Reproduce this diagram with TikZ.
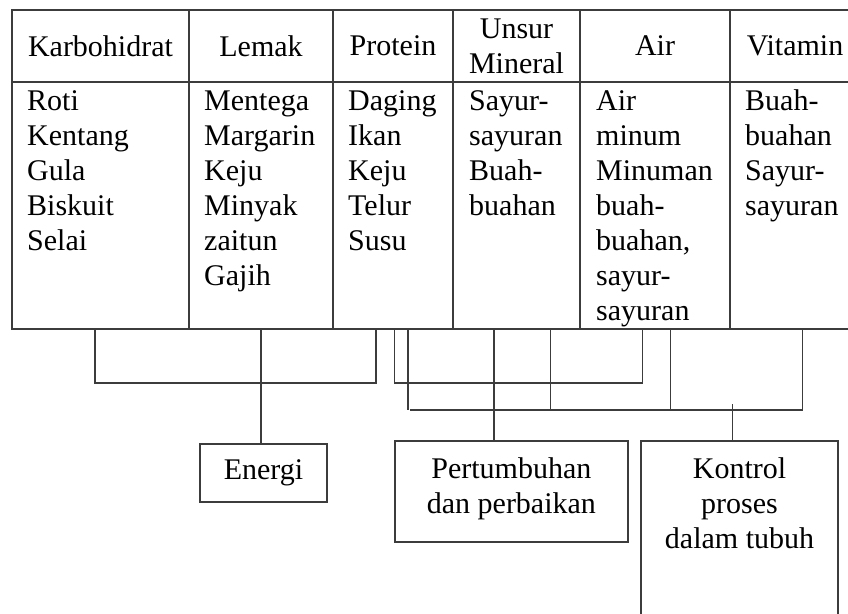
\documentclass[tikz,border=0pt]{standalone}
\usepackage{fontspec}
\setmainfont{Liberation Serif}
\definecolor{rulegray}{RGB}{60,60,60}
\newcommand{\cellstack}[2][l]{\begin{tabular}[t]{@{}#1@{}}#2\end{tabular}}
\begin{document}
\begin{tikzpicture}[x=1pt,y=-1pt,
  every node/.style={font=\fontsize{30}{35}\selectfont, text=black},
  frame/.style={draw=rulegray, line width=1.5pt, inner sep=0pt, outer sep=0pt},
  link/.style={draw=rulegray, line width=1.5pt},
  headcell/.style={frame, align=center, minimum height=72pt},
  bodycell/.style={frame, minimum height=247pt},
  items/.style={anchor=base west, inner sep=0pt},
  caption/.style={anchor=base, inner sep=0pt}]

\useasboundingbox (0,0) rectangle (848,613);
\clip (0,0) rectangle (848,613);

% header row
\node[headcell, minimum width=177pt] (hK) at (100.5,46) {Karbohidrat};
\node[headcell, minimum width=144pt] (hL) at (261,46)   {Lemak};
\node[headcell, minimum width=120pt] (hP) at (393,46)   {Protein};
\node[headcell, minimum width=127pt] (hU) at (516.5,46) {Unsur\\Mineral};
\node[headcell, minimum width=150pt] (hA) at (655,46)   {Air};
\node[headcell, minimum width=130pt] (hV) at (795,46)   {Vitamin};

% body row
\node[bodycell, minimum width=177pt] (bK) at (100.5,205.5) {};
\node[bodycell, minimum width=144pt] (bL) at (261,205.5)   {};
\node[bodycell, minimum width=120pt] (bP) at (393,205.5)   {};
\node[bodycell, minimum width=127pt] (bU) at (516.5,205.5) {};
\node[bodycell, minimum width=150pt] (bA) at (655,205.5)   {};
\node[bodycell, minimum width=130pt] (bV) at (795,205.5)   {};

% food examples
\node[items] (tK) at (27,110)  {\cellstack{Roti\\Kentang\\Gula\\Biskuit\\Selai}};
\node[items] (tL) at (204,110) {\cellstack{Mentega\\Margarin\\Keju\\Minyak\\zaitun\\Gajih}};
\node[items] (tP) at (348,110) {\cellstack{Daging\\Ikan\\Keju\\Telur\\Susu}};
\node[items] (tU) at (469,110) {\cellstack{Sayur-\\sayuran\\Buah-\\buahan}};
\node[items] (tA) at (596,110) {\cellstack{Air\\minum\\Minuman\\buah-\\buahan,\\sayur-\\sayuran}};
\node[items] (tV) at (745,110) {\cellstack{Buah-\\buahan\\Sayur-\\sayuran}};

% functions
\node[frame, minimum width=127pt, minimum height=58pt] (en) at (263.5,473) {Energi};
\node[frame, minimum width=233pt, minimum height=101pt] (pt) at (511.4,491.5) {};
\node[caption] (ptx) at (511.4,478) {\cellstack[c]{Pertumbuhan\\dan perbaikan}};
\node[frame, minimum width=197pt, minimum height=199pt] (kp) at (739.5,540.5) {};
\node[caption] (kpx) at (739.5,478) {\cellstack[c]{Kontrol\\proses\\dalam tubuh}};

% links to Energi
\draw[link] (95,0 |- bK.south) |- (376,383) -- (376,0 |- bP.south);
\draw[link] (261,0 |- bL.south) -- (261,0 |- en.north);

% links to Pertumbuhan dan perbaikan
\draw[link] (394.7,0 |- bP.south) |- (642.7,383) -- (642.7,0 |- bA.south);
\draw[link] (494,0 |- bU.south) -- (494,0 |- pt.north);

% links to Kontrol proses dalam tubuh
\draw[link] (408,0 |- bP.south) -- (408,410);
\draw[link] (410,410) -- (802.7,410) -- (802.7,0 |- bV.south);
\draw[link] (550.7,0 |- bU.south) -- (550.7,410);
\draw[link] (670.3,0 |- bA.south) -- (670.3,410);
\draw[link] (732.7,404) -- (732.7,0 |- kp.north);
\end{tikzpicture}
\end{document}
